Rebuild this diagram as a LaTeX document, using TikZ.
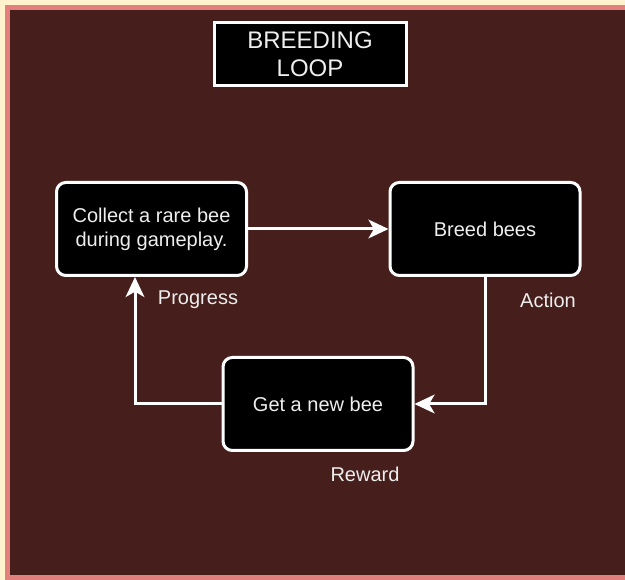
\documentclass[tikz,border=0pt]{standalone}
\usepackage{fontspec}
\setmainfont{Liberation Sans}
\usetikzlibrary{positioning}
\usetikzlibrary{arrows.meta}
\definecolor{cream}{RGB}{255,242,204}
\definecolor{rim}{RGB}{228,128,124}
\definecolor{bark}{RGB}{70,31,28}
\definecolor{ink}{RGB}{238,238,238}

\begin{document}
\begin{tikzpicture}[x=0.75pt, y=-0.75pt, node distance=0.1cm,
>={Stealth[length=15pt,width=14pt,inset=4pt]},
stage/.style={draw=white, line width=2.25pt, fill=black, rounded corners=7pt,
  minimum width=142.5pt, minimum height=69.75pt, align=center, text=ink,
  font=\fontsize{15}{18}\selectfont},
headbox/.style={draw=white, line width=2.25pt, fill=black,
  minimum width=144pt, minimum height=47.25pt, align=center, text=ink,
  font=\fontsize{18}{21}\selectfont},
tag/.style={text=ink, font=\fontsize{15}{18}\selectfont},
link/.style={draw=white, line width=2.25pt}]

\useasboundingbox (0,0) rectangle (625,580);

% frame
\fill[cream] (0,0) rectangle (625,580);
\fill[rim] (5,5) rectangle (625,580);
\fill[bark] (10,10) rectangle (625,575);

% title
\node [headbox] (head) at (310,54.5) {BREEDING\\LOOP};

% loop steps
\node [stage] (collect) at (151.5,229) {Collect a rare bee\\during gameplay.};
\node [stage] (breed) at (485,229) {Breed bees};
\node [stage] (reward) at (318,404) {Get a new bee};

% arrows
\coordinate (bend) at (135,404);
\draw [link,->] (collect) -- (breed);
\draw [link,->] (breed.south) |- (reward.east);
\draw [link,->] (reward.west) -- (bend) -- (bend |- collect.south);

% labels
\node [tag] (progress) at (198,300) {Progress};
\node [tag] (action) at (548,300) {Action};
\node [tag] (gain) at (365,474) {Reward};

\end{tikzpicture}
\end{document}
